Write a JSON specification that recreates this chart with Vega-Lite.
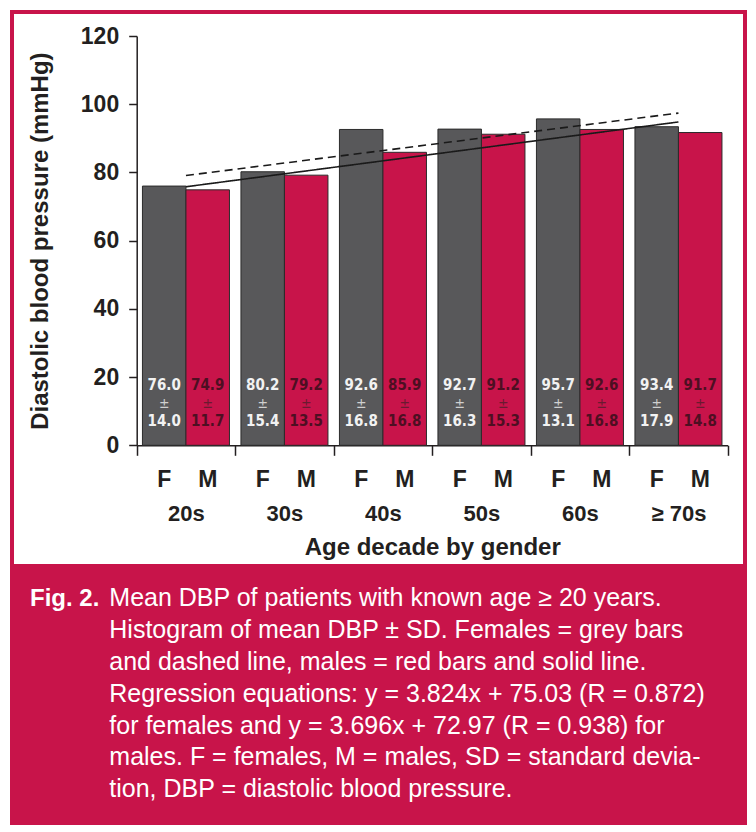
{
  "$schema": "https://vega.github.io/schema/vega-lite/v6.json",
  "background": "white",
  "padding": {"left": 10, "top": 10, "right": 10, "bottom": 10},
  "spacing": 0,
  "config": {"font": "Liberation Sans", "axis": {"grid": false}},
  "datasets": {
    "bars": [
      {"decade": "20s", "gender": "F", "mean": 76.0, "sd": 14.0},
      {"decade": "20s", "gender": "M", "mean": 74.9, "sd": 11.7},
      {"decade": "30s", "gender": "F", "mean": 80.2, "sd": 15.4},
      {"decade": "30s", "gender": "M", "mean": 79.2, "sd": 13.5},
      {"decade": "40s", "gender": "F", "mean": 92.6, "sd": 16.8},
      {"decade": "40s", "gender": "M", "mean": 85.9, "sd": 16.8},
      {"decade": "50s", "gender": "F", "mean": 92.7, "sd": 16.3},
      {"decade": "50s", "gender": "M", "mean": 91.2, "sd": 15.3},
      {"decade": "60s", "gender": "F", "mean": 95.7, "sd": 13.1},
      {"decade": "60s", "gender": "M", "mean": 92.6, "sd": 16.8},
      {"decade": "≥ 70s", "gender": "F", "mean": 93.4, "sd": 17.9},
      {"decade": "≥ 70s", "gender": "M", "mean": 91.7, "sd": 14.8}
    ],
    "reg": [
      {"gender": "F", "decade": "20s", "value": 79.1},
      {"gender": "F", "decade": "≥ 70s", "value": 97.4},
      {"gender": "M", "decade": "20s", "value": 75.8},
      {"gender": "M", "decade": "≥ 70s", "value": 94.8}
    ],
    "caption": [
      {"line": 1, "text": "Mean DBP of patients with known age ≥ 20 years."},
      {"line": 2, "text": "Histogram of mean DBP ± SD. Females = grey bars"},
      {"line": 3, "text": "and dashed line, males = red bars and solid line."},
      {"line": 4, "text": "Regression equations: y = 3.824x + 75.03 (R = 0.872)"},
      {"line": 5, "text": "for females and y = 3.696x + 72.97 (R = 0.938) for"},
      {"line": 6, "text": "males. F = females, M = males, SD = standard devia-"},
      {"line": 7, "text": "tion, DBP = diastolic blood pressure."}
    ]
  },
  "vconcat": [
    {
      "width": 733,
      "height": 554,
      "view": {"fill": "white", "stroke": "#c8144a", "strokeWidth": 4},
      "data": {"name": "bars"},
      "layer": [
        {
          "mark": {"type": "bar", "stroke": "#2b2b2b", "strokeWidth": 1},
          "encoding": {
            "x": {
              "field": "decade", "type": "nominal", "sort": null,
              "scale": {"domain": ["20s", "30s", "40s", "50s", "60s", "≥ 70s"], "range": [124.7, 715.7], "paddingInner": 0, "paddingOuter": 0},
              "axis": {
                "orient": "bottom", "offset": -120.7, "title": "Age decade by gender",
                "tickBand": "extent", "tickSize": 10, "tickWidth": 1.5, "tickColor": "#231f20",
                "domainColor": "#231f20", "domainWidth": 1.5, "labelAngle": 0, "labelPadding": 48,
                "labelFontSize": 22, "labelFontWeight": "bold", "labelColor": "#231f20",
                "titleFontSize": 24, "titleFontWeight": "bold", "titleColor": "#231f20", "titlePadding": 11
              }
            },
            "xOffset": {"field": "gender", "type": "nominal", "scale": {"domain": ["F", "M"], "paddingInner": 0, "paddingOuter": 0.132}},
            "y": {
              "field": "mean", "type": "quantitative",
              "scale": {"domain": [0, 120], "range": [433.3, 24], "nice": false},
              "axis": {
                "orient": "left", "offset": -124.7, "values": [0, 20, 40, 60, 80, 100, 120],
                "title": "Diastolic blood pressure (mmHg)", "tickSize": 8, "tickWidth": 1.5, "tickColor": "#231f20",
                "domainColor": "#231f20", "domainWidth": 1.5, "labelPadding": 10,
                "labelFontSize": 23, "labelFontWeight": "bold", "labelColor": "#231f20",
                "titleFontSize": 24, "titleFontWeight": "bold", "titleColor": "#231f20", "titlePadding": 28
              }
            },
            "fill": {"field": "gender", "type": "nominal", "scale": {"domain": ["F", "M"], "range": ["#58585a", "#c8144a"]}, "legend": null}
          }
        },
        {
          "data": {"name": "reg"},
          "mark": {"type": "line", "color": "#1a1a1a", "strokeWidth": 1.6},
          "encoding": {
            "x": {"field": "decade", "type": "nominal"},
            "y": {"field": "value", "type": "quantitative"},
            "strokeDash": {"field": "gender", "type": "nominal", "scale": {"domain": ["F", "M"], "range": [[8, 5], [1, 0]]}, "legend": null}
          }
        },
        {
          "mark": {"type": "text", "font": "DejaVu Sans Condensed", "fontSize": 15, "fontWeight": "bold", "baseline": "middle"},
          "encoding": {
            "x": {"field": "decade", "type": "nominal"},
            "xOffset": {"field": "gender", "type": "nominal"},
            "y": {"datum": 17.7},
            "text": {"field": "mean", "type": "quantitative", "format": ".1f"},
            "color": {"condition": {"test": "datum.gender === 'F'", "value": "#f2f2f2"}, "value": "#4d0f22"}
          }
        },
        {
          "mark": {"type": "text", "font": "DejaVu Sans Condensed", "fontSize": 14, "baseline": "middle"},
          "encoding": {
            "x": {"field": "decade", "type": "nominal"},
            "xOffset": {"field": "gender", "type": "nominal"},
            "y": {"datum": 12.1},
            "text": {"value": "±"},
            "color": {"condition": {"test": "datum.gender === 'F'", "value": "#d0d0d0"}, "value": "#6a1a30"}
          }
        },
        {
          "mark": {"type": "text", "font": "DejaVu Sans Condensed", "fontSize": 15, "fontWeight": "bold", "baseline": "middle"},
          "encoding": {
            "x": {"field": "decade", "type": "nominal"},
            "xOffset": {"field": "gender", "type": "nominal"},
            "y": {"datum": 7.1},
            "text": {"field": "sd", "type": "quantitative", "format": ".1f"},
            "color": {"condition": {"test": "datum.gender === 'F'", "value": "#f2f2f2"}, "value": "#4d0f22"}
          }
        },
        {
          "mark": {"type": "text", "fontSize": 23, "fontWeight": "bold", "baseline": "middle", "dy": 35, "color": "#231f20"},
          "encoding": {
            "x": {"field": "decade", "type": "nominal"},
            "xOffset": {"field": "gender", "type": "nominal"},
            "y": {"datum": 0},
            "text": {"field": "gender", "type": "nominal"}
          }
        }
      ]
    },
    {
      "width": 733,
      "height": 253,
      "view": {"fill": "#c8144a", "stroke": "#c8144a", "strokeWidth": 4},
      "layer": [
        {
          "data": {"name": "caption"},
          "mark": {"type": "text", "align": "left", "baseline": "alphabetic", "fontSize": 25, "color": "white"},
          "encoding": {
            "x": {"datum": "body", "type": "nominal", "scale": {"type": "point", "domain": ["label", "body"], "range": [18, 97.3], "padding": 0}, "axis": null},
            "y": {"field": "line", "type": "ordinal", "scale": {"type": "point", "domain": [1, 2, 3, 4, 5, 6, 7], "range": [36.3, 227.3], "padding": 0}, "axis": null},
            "text": {"field": "text", "type": "nominal"}
          }
        },
        {
          "data": {"values": [{"line": 1, "text": "Fig. 2."}]},
          "mark": {"type": "text", "align": "left", "baseline": "alphabetic", "fontSize": 24, "fontWeight": "bold", "color": "white"},
          "encoding": {
            "x": {"datum": "label", "type": "nominal"},
            "y": {"field": "line", "type": "ordinal"},
            "text": {"field": "text", "type": "nominal"}
          }
        }
      ]
    }
  ]
}
